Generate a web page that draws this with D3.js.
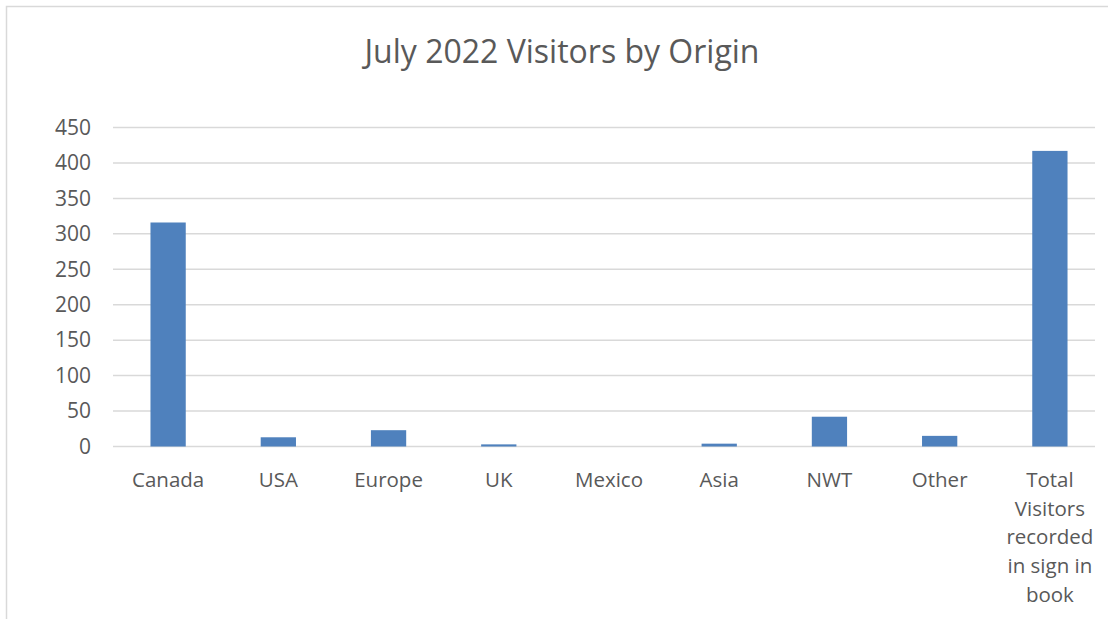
<!DOCTYPE html>
<html>
<head>
<meta charset="utf-8">
<script src="https://cdn.jsdelivr.net/npm/d3@7"></script>
<style>
  body { margin: 0; background: #fff; }
  text { font-family: "Open Sans", "Liberation Sans", sans-serif; fill: #595959; }
</style>
</head>
<body>
<div id="chart"></div>
<script>
// values
let categories = ["Canada", "USA", "Europe", "UK", "Mexico", "Asia", "NWT", "Other",
  "Total Visitors recorded in sign in book"]
let visitors = [316, 13, 23, 3, 0, 4, 42, 15, 417]
let yTicks = [0, 50, 100, 150, 200, 250, 300, 350, 400, 450]

let width = 1108, height = 619
let margin = { top: 127.5, left: 113, right: 3, bottom: 172.5 }

let svg = d3.select("#chart")
  .append("svg")
  .attr("width", width)
  .attr("height", height)

// chart border
svg.append("rect")
  .attr("x", 6.5).attr("y", 6.5)
  .attr("width", 1110).attr("height", 630)
  .attr("fill", "none")
  .attr("stroke", "#d9d9d9")
  .attr("stroke-width", 1.5)

svg.append("text")
  .attr("x", 562)
  .attr("y", 63)
  .attr("text-anchor", "middle")
  .attr("font-size", 32)
  .text("July 2022 Visitors by Origin")

let x = d3.scaleBand()
  .domain(categories)
  .range([margin.left, width - margin.right])
  .paddingInner(0.68)
  .paddingOuter(0.34)

let y = d3.scaleLinear()
  .domain([0, 450])
  .range([height - margin.bottom, margin.top])

// gridlines
svg.append("g")
  .selectAll("line")
  .data(yTicks)
  .join("line")
  .attr("x1", margin.left)
  .attr("x2", width - margin.right - 10)
  .attr("y1", d => y(d))
  .attr("y2", d => y(d))
  .attr("stroke", "#d9d9d9")
  .attr("stroke-width", 1.5)

let yAxis = svg.append("g")
  .attr("transform", `translate(${margin.left - 22},0)`)
  .call(d3.axisLeft(y).tickValues(yTicks).tickSize(0).tickPadding(0))
yAxis.select(".domain").remove()
yAxis.selectAll("text")
  .attr("font-size", 21)
  .attr("fill", "#595959")
  .style("font-family", "'Open Sans', sans-serif")

svg.append("g")
  .selectAll("rect")
  .data(visitors)
  .join("rect")
  .attr("x", (d, i) => x(categories[i]))
  .attr("y", d => y(d))
  .attr("width", x.bandwidth())
  .attr("height", d => y(0) - y(d))
  .attr("fill", "#4f81bd")

// category labels, wrapped like the original
let wrapped = {
  "Total Visitors recorded in sign in book": ["Total", "Visitors", "recorded", "in sign in", "book"]
}
let xl = svg.append("g")
  .selectAll("text")
  .data(categories)
  .join("text")
  .attr("x", d => x(d) + x.bandwidth() / 2)
  .attr("y", 487)
  .attr("text-anchor", "middle")
  .attr("font-size", 20.5)
xl.each(function (d) {
  let lines = wrapped[d] || [d]
  d3.select(this).selectAll("tspan")
    .data(lines)
    .join("tspan")
    .attr("x", x(d) + x.bandwidth() / 2)
    .attr("dy", (l, i) => i == 0 ? 0 : 28.7)
    .text(l => l)
})
</script>
</body>
</html>
